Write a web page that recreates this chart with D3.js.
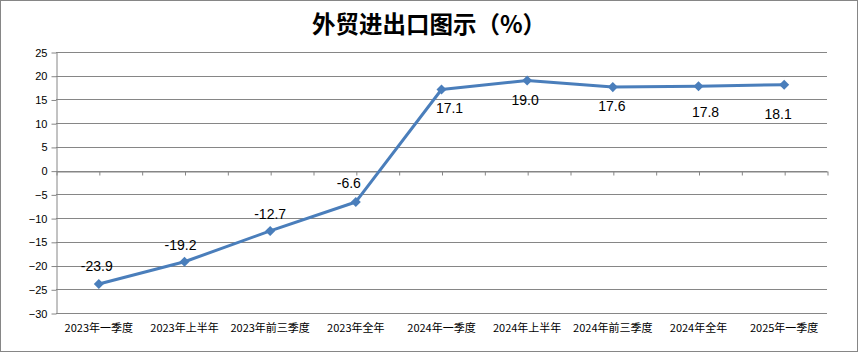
<!DOCTYPE html>
<html>
<head>
<meta charset="utf-8">
<script src="https://cdn.jsdelivr.net/npm/d3@7"></script>
<style>
  html, body { margin: 0; padding: 0; background: #fff; }
</style>
</head>
<body>
<div id="chart"></div>
<script>
'use strict'

var categories = [
  '2023年一季度', '2023年上半年', '2023年前三季度', '2023年全年',
  '2024年一季度', '2024年上半年', '2024年前三季度', '2024年全年', '2025年一季度'
]
var values = [-23.9, -19.2, -12.7, -6.6, 17.1, 19.0, 17.6, 17.8, 18.1]
var yTicks = [-30, -25, -20, -15, -10, -5, 0, 5, 10, 15, 20, 25]
var title = '外贸进出口图示（%）'

// hand placed data labels, offset from their point
var labelDx = [-2, -4, 0, -7, 8, -2, -1, 7, -6]
var labelDy = [-18, -17, -17, -19, 19, 20, 19, 26, 29]

var width = 860
var height = 354
var plotLeft = 56
var plotRight = 827
var plotTop = 52
var plotBottom = 313
var gridColor = '#868686'
var lineColor = '#4a7ebb'

var svg = d3.select('#chart')
  .append('svg')
  .attr('width', width)
  .attr('height', height)

svg.append('rect')
  .attr('x', 0.5)
  .attr('y', 0.5)
  .attr('width', 857)
  .attr('height', 351)
  .attr('fill', '#fff')
  .attr('stroke', gridColor)

svg.append('text')
  .attr('x', 429)
  .attr('y', 33)
  .attr('text-anchor', 'middle')
  .attr('font-family', '"Noto Sans CJK SC", sans-serif')
  .attr('font-weight', 'bold')
  .attr('font-size', '23.5px')
  .attr('fill', '#000')
  .text(title)

var x = d3.scaleLinear().domain([0, categories.length]).range([plotLeft, plotRight])
var y = d3.scaleLinear().domain([-30, 25]).range([plotBottom, plotTop])

// gridlines
svg.append('g')
  .selectAll('line')
  .data(yTicks)
  .enter()
  .append('line')
  .attr('x1', plotLeft)
  .attr('x2', plotRight)
  .attr('y1', function(d) { return Math.round(y(d)) + 0.5 })
  .attr('y2', function(d) { return Math.round(y(d)) + 0.5 })
  .attr('stroke', gridColor)
  .attr('stroke-width', 1)

var yAxis = d3.axisLeft(y)
  .tickValues(yTicks)
  .tickSize(5)
  .tickSizeOuter(0)
  .tickPadding(4)

var yg = svg.append('g')
  .attr('transform', 'translate(' + (plotLeft + 0.5) + ',0.5)')
  .call(yAxis)
yg.select('.domain').attr('stroke', gridColor)
yg.selectAll('line').attr('stroke', gridColor)
yg.selectAll('text')
  .attr('font-family', '"Liberation Sans", Arial, sans-serif')
  .attr('font-size', '11px')
  .attr('fill', '#000')

// category axis crosses at zero
var xAxis = d3.axisBottom(x)
  .tickValues(d3.range(0, categories.length + 0.01, 0.5))
  .tickFormat('')
  .tickSize(4)
  .tickSizeOuter(0)

var xg = svg.append('g')
  .attr('transform', 'translate(0.5,' + (Math.round(y(0)) + 0.5) + ')')
  .call(xAxis)
xg.select('.domain').attr('stroke', gridColor)
xg.selectAll('line').attr('stroke', gridColor)

svg.append('g')
  .selectAll('text')
  .data(categories)
  .enter()
  .append('text')
  .attr('x', function(d, i) { return x(i + 0.5) })
  .attr('y', 332)
  .attr('text-anchor', 'middle')
  .attr('font-family', '"Noto Sans CJK SC", sans-serif')
  .attr('font-size', '11px')
  .attr('fill', '#000')
  .text(function(d) { return d })

var line = d3.line()
  .x(function(d, i) { return x(i + 0.5) })
  .y(function(d) { return y(d) })

svg.append('path')
  .datum(values)
  .attr('d', line)
  .attr('fill', 'none')
  .attr('stroke', lineColor)
  .attr('stroke-width', 3)
  .attr('stroke-linejoin', 'round')

svg.append('g')
  .selectAll('path')
  .data(values)
  .enter()
  .append('path')
  .attr('d', d3.symbol().type(d3.symbolDiamond2).size(64))
  .attr('transform', function(d, i) {
    return 'translate(' + x(i + 0.5) + ',' + y(d) + ')'
  })
  .attr('fill', lineColor)

svg.append('g')
  .selectAll('text')
  .data(values)
  .enter()
  .append('text')
  .attr('x', function(d, i) { return x(i + 0.5) + labelDx[i] })
  .attr('y', function(d, i) { return y(d) + labelDy[i] })
  .attr('dy', '0.35em')
  .attr('text-anchor', 'middle')
  .attr('font-family', '"Liberation Sans", Arial, sans-serif')
  .attr('font-size', '14px')
  .attr('fill', '#000')
  .text(function(d) { return d.toFixed(1) })
</script>
</body>
</html>
